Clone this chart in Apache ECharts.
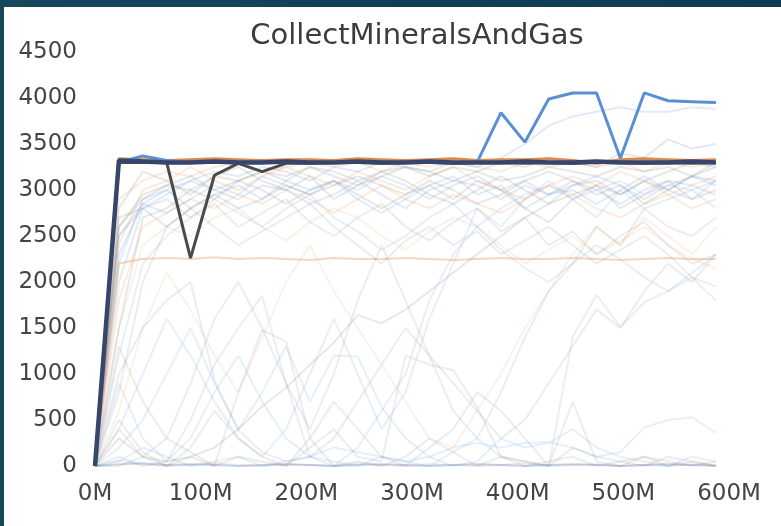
<!DOCTYPE html>
<html><head><meta charset="utf-8">
<script src="https://cdn.jsdelivr.net/npm/echarts@6/dist/echarts.min.js"></script>
<style>
html,body{margin:0;padding:0;width:781px;height:526px;overflow:hidden;background:linear-gradient(90deg,#17485a 0%,#123f58 50%,#0f3a55 100%);}
#chart{position:absolute;left:4px;top:7px;width:777px;height:519px;background:#fff;}
</style></head><body><div id="chart"></div>
<script>
// training steps (millions)
const steps = [0,22.6,45.2,67.8,90.4,113,135.6,158.2,180.8,203.4,226,248.6,271.2,293.8,316.4,339,361.6,384.2,406.8,429.4,452,474.6,497.2,519.8,542.4,565,587.6];
const xTicks = [0,100,200,300,400,500,600];
const yTicks = [0,500,1000,1500,2000,2500,3000,3500,4000,4500];

// faded runs
const u1 = [0,2600,2900,3050,3000,3150,3100,3200,3150,3250,3200,3100,3200,3250,3150,3250,3200,3100,3150,3250,3200,3150,3250,3200,3250,3150,3250];
const u2 = [0,2000,2800,2950,3100,3000,2900,3050,3000,2850,2950,3100,2950,2800,3000,3100,3050,2900,3050,2950,3100,3000,2850,3000,3100,3050,2950];
const u3 = [0,2900,3100,3200,3150,3250,3300,3200,3250,3300,3250,3300,3200,3300,3250,3300,3250,3200,3300,3250,3300,3250,3300,3200,3300,3250,3300];
const u4 = [0,1500,2700,2800,3000,2900,3100,3000,2850,3000,3100,2950,2800,2950,3050,2900,3100,3000,2800,2650,2900,3050,2800,2950,3100,2900,3000];
const u5 = [0,2500,2850,2750,2900,3050,2950,3150,3050,2950,3100,3000,3150,3050,2900,3050,3150,3000,3100,2950,3050,3150,3050,2900,3050,3150,3050];
const u6 = [0,1800,2600,2750,2900,2800,2950,2850,3000,2900,2750,2900,3050,2900,2800,2950,2850,2750,2900,3050,2950,2800,2700,2850,2950,2800,2900];
const u7 = [0,2800,3200,3100,2950,3150,3250,3100,3000,3150,2900,3050,3200,3100,2950,2850,3000,3150,3000,2850,3050,3100,2950,3100,3200,3300,3250];
const u8 = [0,2200,2900,3000,2800,2950,3050,2900,3100,3000,3100,2900,2750,2900,3050,3150,2950,3050,2800,2950,3000,2850,3000,3150,3000,2900,3100];
const u9 = [0,2700,2800,2600,2800,2950,2800,2900,3050,2950,3050,3150,3050,2950,3100,3000,2850,2950,3100,3200,3100,2950,3050,2850,3000,3150,3300];
const u10 = [0,2400,3000,3100,3250,3100,3000,3150,3250,3150,3050,3200,3100,3000,3150,3250,3100,3000,2900,3050,3150,3050,3200,3100,2950,3050,3150];
const u11 = [0,2600,2950,3050,3150,3000,3100,3200,3100,3250,3150,3050,3150,3250,3200,3100,3200,3300,3250,3350,3300,3250,3400,3350,3550,3450,3500];
const u12 = [0,2300,2850,3000,3100,3200,3150,3250,3200,3100,3250,3200,3300,3250,3200,3300,3250,3350,3500,3700,3800,3850,3900,3850,3850,3900,3880];
const m1 = [0,2200,2250,2260,2250,2270,2250,2260,2250,2240,2260,2250,2250,2260,2250,2240,2250,2260,2250,2250,2260,2250,2240,2250,2260,2250,2250];
const m2 = [0,2500,2800,2900,2700,2850,2600,2750,2900,2650,2500,2700,2850,2600,2450,2650,2800,2550,2700,2400,2550,2300,2500,2650,2400,2200,2300];
const m3 = [0,1500,2400,2600,2500,2700,2800,2600,2450,2650,2800,2700,2500,2350,2550,2700,2600,2400,2200,2350,2500,2300,2450,2600,2400,2250,2150];
const m4 = [0,1200,2200,2500,2700,2900,2750,2600,2800,2950,2700,2550,2350,2500,2700,2850,2600,2350,2150,2000,2200,2400,2250,2050,1900,2050,1800];
const m5 = [0,800,2000,2600,2800,2600,2400,2550,2700,2850,2600,2400,2200,2450,2600,2400,2550,2300,2450,2600,2400,2200,2350,2500,2300,2050,1950];
const l1 = [0,20,30,10,20,10,0,10,20,10,0,10,20,10,0,10,20,10,0,10,20,10,0,10,20,10,0];
const l2 = [0,60,20,0,10,30,10,0,20,10,0,30,10,0,20,10,0,10,30,0,10,20,0,10,0,20,10];
const l3 = [0,300,100,50,100,200,400,650,850,1100,1340,1640,1550,1700,1900,2100,2300,2500,2700,2850,2950,3050,2950,3100,3000,3150,3100];
const l4 = [0,500,150,0,100,0,800,1480,1350,300,0,50,0,100,300,150,0,100,50,0,200,100,50,0,100,50,0];
const l5 = [0,900,300,50,500,1100,1500,1850,900,100,0,200,600,1000,1800,2300,2600,2800,2950,3050,2900,3000,3100,2950,3050,3000,3100];
const l6 = [0,0,100,300,150,0,100,50,0,200,400,100,50,1200,1100,1040,640,100,0,50,100,0,50,100,0,50,0];
const l7 = [0,200,500,1000,1500,900,400,800,1300,700,1200,1190,640,300,100,0,50,300,200,250,400,200,100,50,0,100,50];
const l8 = [0,600,1500,2100,1700,1200,800,1400,2000,2400,1900,1500,1100,700,300,200,600,1000,1500,1900,2300,2600,2400,2700,2500,2300,2600];
const l9 = [0,1000,1500,1800,2000,935,390,150,50,100,300,700,1100,1500,1200,900,600,300,500,900,1300,1700,1500,1900,2200,2000,2300];
const l10 = [0,100,0,50,300,800,1200,700,300,100,50,0,100,50,0,150,300,100,50,0,1400,1860,1510,1780,1900,2100,2300];
const l11 = [0,50,200,100,0,50,100,0,50,100,200,150,100,50,100,200,250,200,250,260,200,100,150,420,500,530,360];
const l12 = [0,400,100,0,200,600,300,100,0,300,700,400,100,0,200,400,800,600,300,0,700,50,0,100,50,0,50];
const l13 = [0,1300,700,300,900,1600,2000,1500,900,400,1000,1800,2400,1800,1200,600,300,800,1400,1900,2200,2600,2400,2800,2600,2500,2700];
const l14 = [0,400,1000,1600,1200,700,300,100,400,1000,1600,1000,400,800,1600,2200,2800,2600,2900,3100,2900,2700,3000,2800,2900,3000,2800];

// highlighted runs
const runNavy = [0,3320,3310,3300,3300,3310,3300,3300,3310,3300,3300,3310,3300,3300,3310,3300,3300,3300,3310,3300,3300,3310,3300,3300,3300,3310,3300];
const runOrange = [0,3340,3330,3320,3330,3340,3330,3320,3330,3330,3320,3340,3330,3320,3330,3340,3320,3330,3330,3340,3320,3290,3330,3340,3330,3320,3330];
const runGray = [0,3300,3300,3300,2260,3160,3290,3200,3290,3290,3300,3300,3290,3300,3300,3290,3300,3300,3290,3300,3290,3300,3300,3290,3300,3290,3300];
const runBlue = [0,3300,3370,3320,3300,3300,3300,3310,3300,3300,3300,3300,3300,3300,3300,3300,3300,3840,3520,3990,4055,4055,3345,4055,3970,3960,3950];

const GRAY = 'rgba(110,110,110,0.16)';
const BLUE = 'rgba(110,155,215,0.2)';
const ORANGE = 'rgba(240,155,95,0.2)';
const GRAYL = 'rgba(110,110,110,0.12)';
const BLUEL = 'rgba(110,155,215,0.16)';
const ORANGEL = 'rgba(240,155,95,0.14)';

const faded = [
  [u1,GRAY],[u2,BLUE],[u3,ORANGE],[u4,GRAY],[u5,BLUE],[u6,ORANGE],[u7,GRAY],[u8,BLUE],[u9,GRAY],[u10,ORANGE],[u11,GRAY],[u12,BLUE],
  [m1,'rgba(240,165,110,0.45)'],[m2,GRAYL],[m3,ORANGEL],[m4,BLUEL],[m5,GRAYL],
  [l1,'rgba(120,150,200,0.4)'],[l2,GRAYL],[l3,GRAY],[l4,GRAYL],[l5,BLUEL],[l6,GRAYL],[l7,BLUEL],[l8,ORANGEL],[l9,GRAYL],[l10,BLUEL],[l11,BLUEL],[l12,GRAYL],[l13,GRAYL],[l14,BLUEL]
];
const highlighted = [
  [runOrange,'#d98a50',3],[runGray,'#4a4a4a',3],[runBlue,'#5b8fd3',3],[runNavy,'#37456c',4.5]
];

function pairs(vals){ return vals.map((v,i)=>[steps[i], v]); }
const series = [];
faded.forEach(([vals,c])=>series.push({type:'line',data:pairs(vals),symbol:'none',silent:true,lineStyle:{color:c,width:2},z:1}));
highlighted.forEach(([vals,c,w],k)=>series.push({type:'line',data:pairs(vals),symbol:'none',lineStyle:{color:c,width:w},z:3+k}));

const chart = echarts.init(document.getElementById('chart'), null, {renderer:'canvas'});
chart.setOption({
  animation:false,
  backgroundColor:'#fff',
  title:{text:'CollectMineralsAndGas',left:408,top:10,textAlign:'center',
    textStyle:{fontFamily:'DejaVu Sans',fontSize:29,fontWeight:'normal',color:'#3c3c3c'}},
  grid:{left:91,right:52,top:45,bottom:60},
  xAxis:{type:'value',min:0,max:600,interval:100,
    axisLine:{show:false},axisTick:{show:false},splitLine:{show:false},
    axisLabel:{formatter:v=>v+'M',fontFamily:'DejaVu Sans',fontSize:23,color:'#444',margin:17}},
  yAxis:{type:'value',min:0,max:4500,interval:500,
    axisLine:{show:false},axisTick:{show:false},splitLine:{show:false},
    axisLabel:{formatter:v=>String(v),fontFamily:'DejaVu Sans',fontSize:23,color:'#444',margin:18}},
  series:series
});
</script></body></html>
